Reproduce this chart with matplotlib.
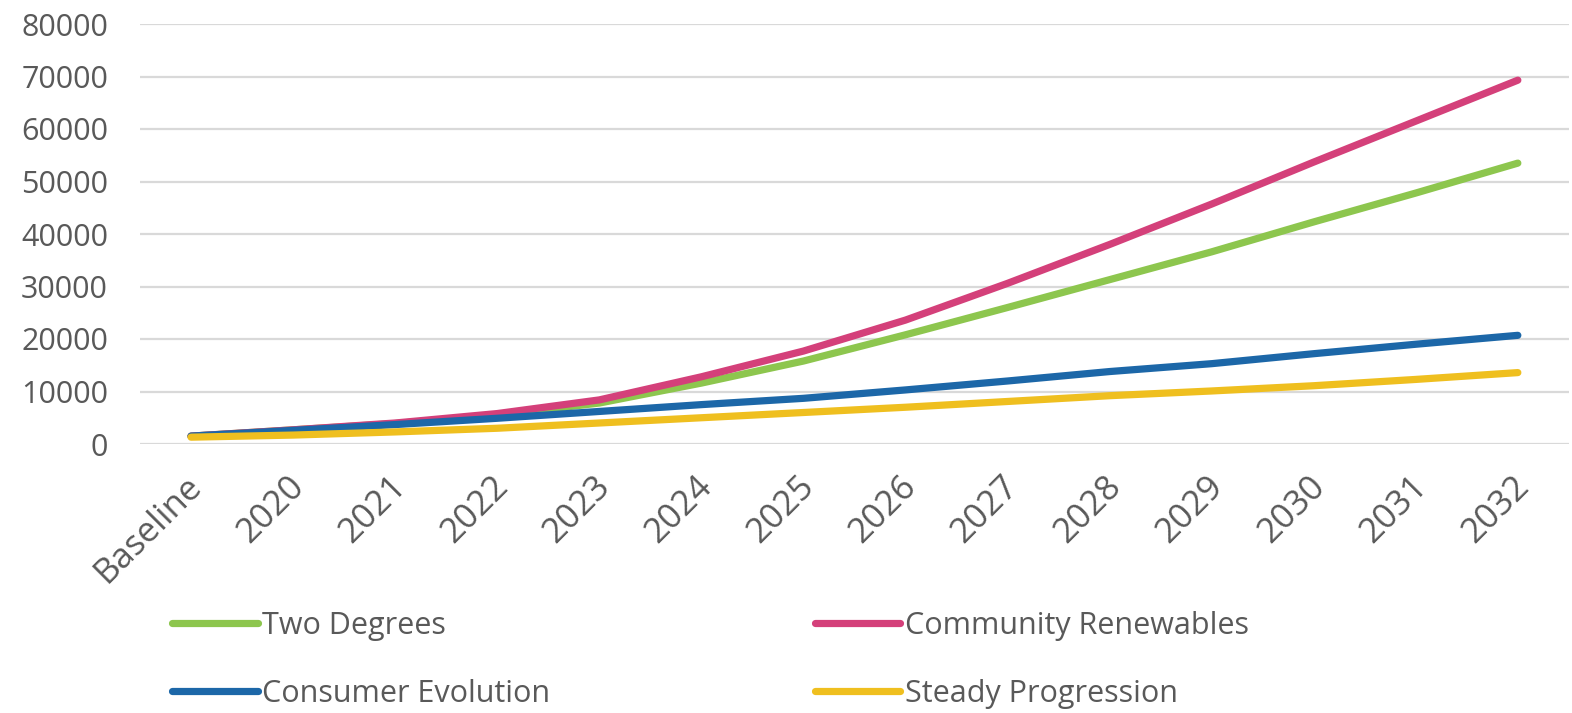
import matplotlib
matplotlib.use("Agg")
import matplotlib.pyplot as plt
from matplotlib.transforms import ScaledTranslation

plt.rcParams['font.family'] = ['Open Sans', 'DejaVu Sans']

categories = ["Baseline", "2020", "2021", "2022", "2023", "2024", "2025",
              "2026", "2027", "2028", "2029", "2030", "2031", "2032"]

two_degrees = [1500, 2700, 3900, 5500, 7800, 11600, 15800,
               20800, 26000, 31300, 36600, 42300, 47800, 53500]
community_renewables = [1500, 2700, 4000, 5800, 8400, 12800, 17700,
                        23600, 30600, 38000, 45700, 53700, 61500, 69300]
consumer_evolution = [1500, 2600, 3700, 4900, 6200, 7500, 8700,
                      10300, 12000, 13800, 15300, 17200, 19000, 20700]
steady_progression = [1300, 1700, 2300, 3000, 4000, 5000, 6000,
                      7000, 8100, 9200, 10100, 11100, 12300, 13600]

y_ticks = [0, 10000, 20000, 30000, 40000, 50000, 60000, 70000, 80000]

series = [
    ("Two Degrees", two_degrees, "#8dc64e"),
    ("Community Renewables", community_renewables, "#d4407a"),
    ("Consumer Evolution", consumer_evolution, "#1c67a8"),
    ("Steady Progression", steady_progression, "#efbf1f"),
]

text_color = "#595959"
grid_color = "#d9d9d9"

fig = plt.figure(figsize=(15.72, 7.13), dpi=100)
ax = fig.add_axes([140 / 1572, 1 - 444 / 713, 1 - 140 / 1572 - 0.002, (444 - 24) / 713])

x = list(range(len(categories)))
handles = {}
for name, values, color in series:
    (ln,) = ax.plot(x, values, color=color, lw=5.2, solid_capstyle="round",
                    solid_joinstyle="round", label=name, zorder=3)
    handles[name] = ln

ax.set_xlim(-0.5, len(categories) - 0.5)
ax.set_ylim(0, 80000)
ax.set_yticks(y_ticks)
ax.set_yticklabels([str(v) for v in y_ticks])
ax.yaxis.grid(True, color=grid_color, lw=1.6, zorder=0)
ax.set_axisbelow(True)
for s in ax.spines.values():
    s.set_visible(False)
ax.tick_params(axis="y", length=0, pad=23, labelsize=22, labelcolor=text_color)
ax.tick_params(axis="x", length=0, pad=18, labelsize=25, labelcolor=text_color)
ax.set_xticks(x)
ax.set_xticklabels(categories, rotation=45, ha="right", va="top",
                   rotation_mode="anchor")
shift = ScaledTranslation(-6 / 100, 0, fig.dpi_scale_trans)
for lbl in ax.get_xticklabels():
    lbl.set_transform(lbl.get_transform() + shift)

order = ["Two Degrees", "Consumer Evolution", "Community Renewables", "Steady Progression"]
leg = fig.legend([handles[n] for n in order], order, ncol=2, frameon=False,
                 loc="center left", bbox_to_anchor=(172 / 1572, 1 - 660 / 713),
                 fontsize=22, handlelength=2.8, handletextpad=0.15,
                 columnspacing=8.65, labelspacing=1.25, borderpad=0,
                 borderaxespad=0)
for t in leg.get_texts():
    t.set_color(text_color)

fig.savefig("out.png", dpi=100)
